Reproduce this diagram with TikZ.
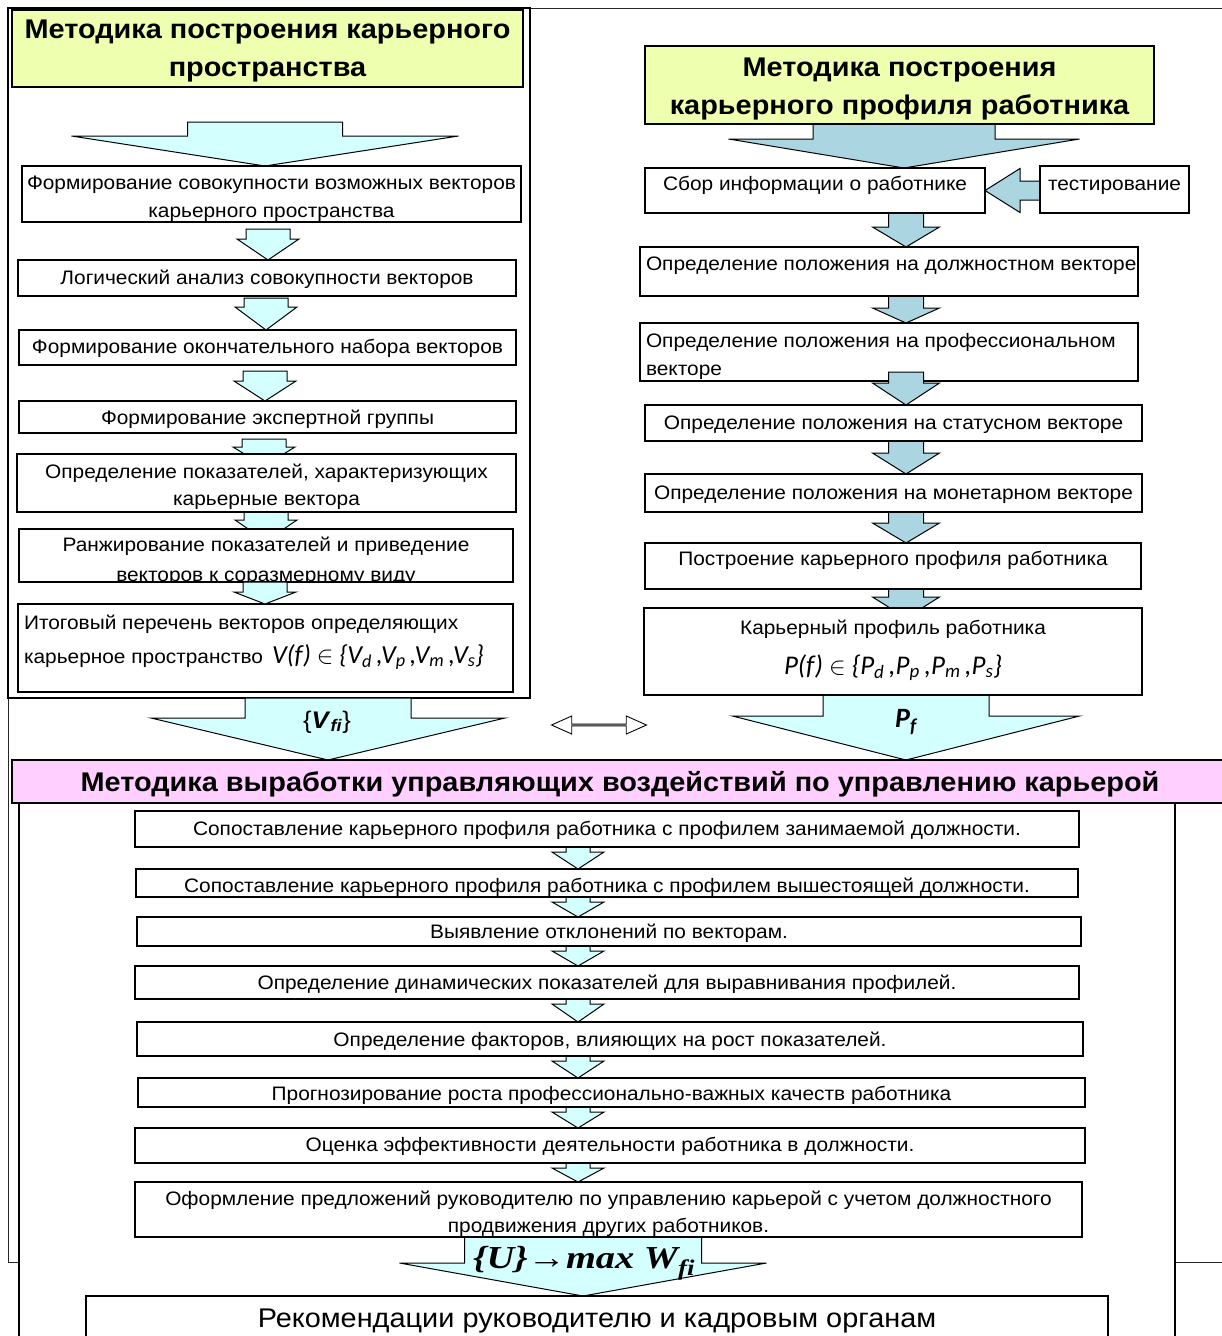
\documentclass[tikz,border=0pt]{standalone}
\usepackage{fontspec}
\setmainfont[FakeStretch=1.07]{Liberation Sans}
\newfontfamily\serifbi[FakeStretch=1.2]{Liberation Serif}
\newfontfamily\calfont{Carlito}
\usetikzlibrary{calc,shapes.arrows}
\pgfdeclarelayer{back}\pgfdeclarelayer{mid}\pgfdeclarelayer{front}
\pgfsetlayers{back,mid,main,front}
\definecolor{ylw}{RGB}{238,255,176}
\definecolor{cyn}{RGB}{212,255,255}
\definecolor{lbl}{RGB}{170,213,225}
\definecolor{pnk}{RGB}{255,208,255}
\tikzset{
 box/.style={draw, fill=white, line width=1.3pt, inner sep=0pt, outer sep=0pt},
 thk/.style={line width=2.4pt},
 arr/.style={draw, line width=1pt, line join=miter},
 frm/.style={draw, line width=1.2pt, fill=white, inner sep=0pt, outer sep=0pt, anchor=north west},
}
\newcommand\bx[7][]{\node[box,#1,anchor=north west] (#2) at (#3,-#4) {\parbox[b][\dimexpr#6pt-#4pt\relax][t]{\dimexpr#5pt-#3pt\relax}{#7}};}
\newcommand\cln[2]{\makebox[\linewidth]{\rule{0pt}{#1pt}#2}\par}
\newcommand\lln[3]{\makebox[\linewidth][l]{\hspace*{#1pt}\rule{0pt}{#2pt}#3}\par}
\newcommand\aw[2]{\def\ashw{#1}\def\ahhw{#2}}
\newcommand\barr[8][mid]{\begin{pgfonlayer}{#1}\draw[arr,fill=#2] let \p1=(#3.south), \p2=(#4.north) in
 ({(#5-\ashw)*1pt},{\y1-(#6)*1pt}) -- ({(#5+\ashw)*1pt},{\y1-(#6)*1pt}) -- ({(#5+\ashw)*1pt},{\y1-(#7)*1pt}) -- ({(#5+\ahhw)*1pt},{\y1-(#7)*1pt}) -- ({#5*1pt},{\y2-(#8)*1pt}) -- ({(#5-\ahhw)*1pt},{\y1-(#7)*1pt}) -- ({(#5-\ashw)*1pt},{\y1-(#7)*1pt}) -- cycle;\end{pgfonlayer}}
\newcommand\tfs{\fontsize{27}{38}\selectfont\bfseries}
\newcommand\lfs{\fontsize{19.5}{28}\selectfont}
\newcommand\rfs{\fontsize{19.5}{28}\selectfont}
\newcommand\bfs{\fontsize{19.5}{27}\selectfont}
\begin{document}
\begin{tikzpicture}[x=1pt,y=1pt]
\useasboundingbox (0,0) rectangle (1221,-1336);
% frames
\begin{pgfonlayer}{back}
\node[frm, draw=black!85, line width=1pt, minimum width=1240pt, minimum height=1254pt] (OF) at (8,-8) {};
\node[frm, minimum width=522pt, minimum height=690pt] (LF) at (8,-8) {};
\node[frm, minimum width=1156pt, minimum height=600pt] (IF) at (19,-803) {};
\end{pgfonlayer}
% left column
\bx[fill=ylw,line width=1.8pt]{T1}{12}{10}{523}{87}{\tfs\cln{28}{Методика построения карьерного}\cln{0}{пространства}}
\bx{L1}{22}{166}{521}{222}{\lfs\cln{23}{Формирование совокупности возможных векторов}\cln{0}{карьерного пространства}}
\bx{L2}{18}{260}{516}{296}{\lfs\cln{24}{Логический анализ совокупности векторов}}
\bx{L3}{19}{330}{516}{365}{\lfs\cln{23}{Формирование окончательного набора векторов}}
\bx{L4}{19}{401}{516}{433}{\lfs\cln{23}{Формирование экспертной группы}}
\bx{L5}{17}{454}{516}{512}{\lfs\fontsize{19.5}{27}\selectfont\cln{24}{Определение показателей, характеризующих}\cln{0}{карьерные вектора}}
\bx{L6}{19}{529}{513}{582}{\lfs\fontsize{19.5}{30}\selectfont\cln{22}{Ранжирование показателей и приведение}\cln{0}{векторов к соразмерному виду}}
\fill[white] ($(L6.south west)+(0.7,-0.7)$) rectangle ($(L6.south east)+(-0.7,-9)$);
\bx[thk]{L7}{18}{604}{513}{692}{\lfs\fontsize{19.5}{34}\selectfont\lln{6}{25}{Итоговый перечень векторов определяющих}\lln{6}{0}{карьерное пространство\hspace{9pt}{\calfont\itshape\fontsize{26}{26}\selectfont V(f) $\in$ \{V\textsubscript{d}\,,V\textsubscript{p}\,,V\textsubscript{m}\,,V\textsubscript{s}\}}}}
% right column
\bx[fill=ylw,line width=1.8pt]{T2}{645}{46}{1154}{124}{\tfs\cln{30}{Методика построения}\cln{0}{карьерного профиля работника}}
\bx{R1}{645}{168}{985}{213}{\rfs\cln{22}{Сбор информации о работнике}}
\bx{TS}{1040}{166}{1189}{213}{\rfs\cln{24}{тестирование}}
\bx{R2}{640}{247}{1138}{296}{\rfs\lln{6}{23}{Определение положения на должностном векторе}}
\bx{R3}{640}{323}{1138}{381}{\rfs\lln{6}{24}{Определение положения на профессиональном}\lln{6}{0}{векторе}}
\bx{R4}{645}{405}{1142}{441}{\rfs\cln{24}{Определение положения на статусном векторе}}
\bx{R5}{645}{474}{1142}{512}{\rfs\cln{25}{Определение положения на монетарном векторе}}
\bx{R6}{645}{543}{1141}{589}{\rfs\cln{22}{Построение карьерного профиля работника}}
\bx[thk]{R7}{644}{608}{1142}{695}{\rfs\fontsize{19.5}{40}\selectfont\cln{26}{Карьерный профиль работника}\cln{0}{\calfont\itshape\fontsize{27}{27}\selectfont P(f) $\in$ \{P\textsubscript{d}\,,P\textsubscript{p}\,,P\textsubscript{m}\,,P\textsubscript{s}\}}}
% pink title and bottom list
\bx[fill=pnk,line width=1.8pt]{PK}{12}{760}{1228}{803}{\fontsize{27}{30}\selectfont\bfseries\cln{31}{Методика выработки управляющих воздействий по управлению карьерой}}
\bx{B1}{135}{811}{1079}{847}{\bfs\cln{24}{Сопоставление карьерного профиля работника с профилем занимаемой должности.}}
\bx{B2}{136}{869}{1078}{897}{\bfs\cln{23}{Сопоставление карьерного профиля работника с профилем вышестоящей должности.}}
\bx{B3}{137}{917}{1081}{946}{\bfs\cln{21}{Выявление отклонений по векторам.}}
\bx{B4}{135}{966}{1079}{999}{\bfs\cln{23}{Определение динамических показателей для выравнивания профилей.}}
\bx{B5}{137}{1022}{1083}{1056}{\bfs\cln{24}{Определение факторов, влияющих на рост показателей.}}
\bx{B6}{138}{1078}{1085}{1107}{\bfs\cln{22}{Прогнозирование роста профессионально-важных качеств работника}}
\bx{B7}{135}{1128}{1085}{1163}{\bfs\cln{23}{Оценка эффективности деятельности работника в должности.}}
\bx{B8}{135}{1182}{1082}{1237}{\bfs\cln{23}{Оформление предложений руководителю по управлению карьерой с учетом должностного}\cln{0}{продвижения других работников.}}
\bx[thk]{REC}{86}{1296}{1108}{1400}{\fontsize{27}{30}\selectfont\cln{31}{Рекомендации руководителю и кадровым органам}}
% arrows left
\aw{77.5}{193.5}\barr{cyn}{T1}{L1}{265}{35}{49}{0}
\aw{22}{31}
\barr{cyn}{L1}{L2}{268}{7}{17}{0}
\barr{cyn}{L2}{L3}{266}{2}{11}{0}
\barr{cyn}{L3}{L4}{265}{6}{16}{0}
\barr{cyn}{L4}{L5}{264}{6}{14}{12}
\barr{cyn}{L5}{L6}{266}{0}{8}{12}
\barr[front]{cyn}{L6}{L7}{265}{0}{10}{0}
\aw{83}{177}\barr{cyn}{LF}{PK}{328}{0}{20}{0}
% arrows right
\aw{91}{175.5}\barr{lbl}{T2}{R1}{904}{0}{15}{0}
\aw{17.5}{33.5}
\barr{lbl}{R1}{R2}{906}{0}{14}{0}
\barr{lbl}{R2}{R3}{906}{0}{12}{0}
\barr[front]{lbl}{R3}{R4}{906}{-9}{2}{0}
\barr{lbl}{R4}{R5}{906}{0}{12}{0}
\barr{lbl}{R5}{R6}{906}{0}{11}{0}
\barr{lbl}{R6}{R7}{906}{0}{8}{10}
\aw{83}{173.5}\barr{cyn}{R7}{PK}{906}{0}{21}{0}
\begin{pgfonlayer}{mid}
\draw[arr,fill=lbl] let \p1=(TS.west), \p2=(R1.east) in
 (\x1,{\y2+9.5pt}) -- ({\x1-20pt},{\y2+9.5pt}) -- ({\x1-20pt},{\y2+22pt}) -- (\x2,\y2) -- ({\x1-20pt},{\y2-22pt}) -- ({\x1-20pt},{\y2-9.5pt}) -- (\x1,{\y2-9.5pt}) -- cycle;
\end{pgfonlayer}
% arrows bottom
\aw{12}{26}
\barr{cyn}{B1}{B2}{578}{0}{5}{0}
\barr{cyn}{B2}{B3}{578}{0}{5}{0}
\barr{cyn}{B3}{B4}{578}{0}{5}{0}
\barr{cyn}{B4}{B5}{578}{0}{5}{0}
\barr{cyn}{B5}{B6}{578}{0}{5}{0}
\barr{cyn}{B6}{B7}{578}{0}{5}{0}
\barr{cyn}{B7}{B8}{578}{0}{5}{0}
\aw{118.5}{183.5}\barr{cyn}{B8}{REC}{583}{0}{26}{0}
% labels
\node[inner sep=0] (VF) at (327,-722) {\fontsize{24}{24}\selectfont\{\textbf{\textit{V}\textsubscript{\textit{fi}}}\}};
\node[inner sep=0] (PF) at (906,-722) {\calfont\bfseries\itshape\fontsize{28}{28}\selectfont P\textsubscript{f}};
\node[double arrow, draw, fill=white, line width=0.9pt, inner sep=0pt, minimum width=18pt, minimum height=95pt, double arrow head extend=4.5pt, double arrow tip angle=48] (DA) at (599,-725) {};
\begin{scope}
\clip (440,-1237) rectangle (720,-1279);
\node[anchor=base west, inner sep=0] (UW) at (473,-1268) {\serifbi\bfseries\itshape\fontsize{32}{32}\selectfont \{U\}→max W\textsubscript{fi}};
\end{scope}
\end{tikzpicture}
\end{document}
